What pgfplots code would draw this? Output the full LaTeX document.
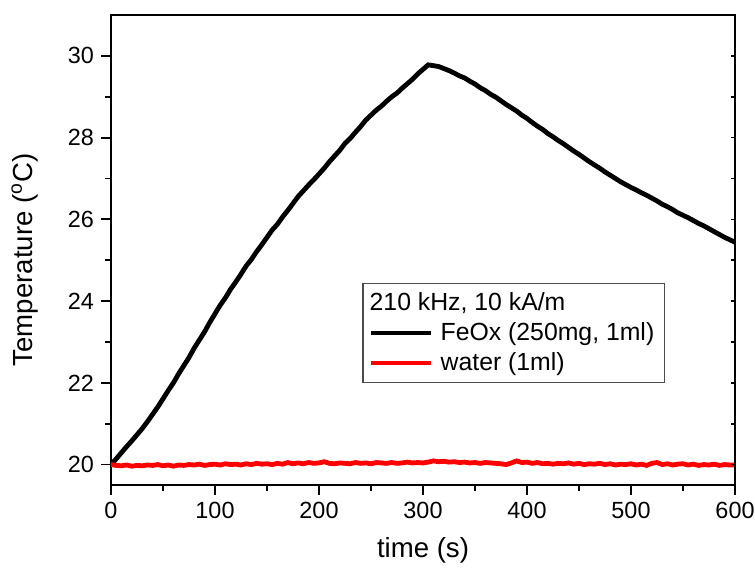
\documentclass[border=0pt]{standalone}
\usepackage{pgfplots}
\pgfplotsset{compat=1.18}
\usepackage{fontspec}
\setmainfont{Liberation Sans}

\pgfplotstableread{
x y
0 20.00
5 20.14
10 20.29
15 20.44
20 20.58
25 20.73
30 20.88
35 21.05
40 21.23
45 21.41
50 21.61
55 21.81
60 22.00
65 22.22
70 22.42
75 22.62
80 22.85
85 23.05
90 23.25
95 23.48
100 23.69
105 23.90
110 24.08
115 24.29
120 24.47
125 24.66
130 24.86
135 25.02
140 25.21
145 25.38
150 25.56
155 25.74
160 25.88
165 26.06
170 26.22
175 26.39
180 26.56
185 26.70
190 26.84
195 26.97
200 27.11
205 27.25
210 27.41
215 27.55
220 27.69
225 27.86
230 27.98
235 28.13
240 28.27
245 28.43
250 28.55
255 28.67
260 28.77
265 28.89
270 29.00
275 29.09
280 29.21
285 29.32
290 29.43
295 29.56
300 29.67
305 29.78
310 29.76
315 29.74
320 29.69
325 29.64
330 29.58
335 29.51
340 29.46
345 29.38
350 29.31
355 29.22
360 29.15
365 29.06
370 28.99
375 28.90
380 28.81
385 28.73
390 28.65
395 28.55
400 28.47
405 28.37
410 28.28
415 28.20
420 28.10
425 28.02
430 27.93
435 27.85
440 27.76
445 27.67
450 27.59
455 27.50
460 27.41
465 27.33
470 27.25
475 27.16
480 27.08
485 27.00
490 26.92
495 26.85
500 26.78
505 26.72
510 26.65
515 26.59
520 26.52
525 26.45
530 26.37
535 26.31
540 26.24
545 26.16
550 26.10
555 26.04
560 25.97
565 25.90
570 25.84
575 25.77
580 25.70
585 25.63
590 25.56
595 25.50
600 25.44
}\feox

\pgfplotstableread{
x y
0 20.00
5 19.98
10 19.97
15 19.99
20 19.96
25 19.98
30 19.97
35 19.99
40 19.98
45 20.00
50 19.97
55 19.99
60 19.96
65 19.99
70 19.98
75 20.00
80 19.99
85 20.01
90 19.98
95 20.00
100 20.01
105 19.99
110 20.02
115 20.00
120 20.01
125 19.99
130 20.02
135 20.00
140 20.03
145 20.01
150 20.02
155 20.00
160 20.03
165 20.01
170 20.05
175 20.02
180 20.04
185 20.02
190 20.05
195 20.03
200 20.04
205 20.07
210 20.03
215 20.02
220 20.04
225 20.03
230 20.02
235 20.05
240 20.03
245 20.04
250 20.02
255 20.05
260 20.04
265 20.03
270 20.05
275 20.03
280 20.04
285 20.06
290 20.04
295 20.05
300 20.04
305 20.06
310 20.09
315 20.07
320 20.08
325 20.06
330 20.07
335 20.05
340 20.06
345 20.04
350 20.05
355 20.03
360 20.05
365 20.04
370 20.03
375 20.02
380 20.00
385 20.04
390 20.09
395 20.05
400 20.06
405 20.03
410 20.05
415 20.02
420 20.03
425 20.01
430 20.03
435 20.02
440 20.04
445 20.01
450 20.03
455 20.00
460 20.02
465 20.01
470 20.03
475 20.00
480 20.02
485 19.99
490 20.01
495 20.00
500 20.02
505 19.99
510 20.01
515 19.98
520 20.03
525 20.05
530 20.00
535 20.02
540 19.99
545 20.01
550 20.02
555 19.99
560 20.01
565 19.98
570 20.00
575 19.99
580 20.01
585 19.98
590 20.00
595 19.99
600 19.99
}\water

\begin{document}
\begin{tikzpicture}
\begin{axis}[
  name=main,
  scale only axis, width=312pt, height=235pt,
  xmin=0, xmax=600, ymin=19.5, ymax=31,
  xtick={0,100,...,600}, minor x tick num=1,
  ytick={20,22,...,30}, minor y tick num=1,
  tick align=outside, tick pos=left,
  major tick length=5pt, minor tick length=3pt,
  axis line style={line width=1pt},
  every tick/.style={line width=0.9pt, black},
  /pgf/number format/assume math mode=true,
  tick label style={font=\fontsize{11.7}{13}\selectfont},
  label style={font=\fontsize{13.8}{15}\selectfont},
  xlabel={time (s)},
  ylabel={Temperature (\textsuperscript{o}C)},
  xlabel style={at={(axis description cs:0.5,-0.138)}, anchor=center},
  ylabel style={at={(axis description cs:-0.138,0.479)}, anchor=center},
  legend style={at={(0.403,0.430)}, anchor=north west,
    draw=black!70, line width=0.6pt,
    font=\fontsize{12.4}{14}\selectfont,
    inner xsep=3pt, inner ysep=2.5pt, row sep=0.5pt,
    cells={anchor=west}},
  legend image code/.code={\draw[#1, line width=2.2pt] (0pt,0pt) -- (30pt,0pt); \path (31.5pt,0pt);},
]
\addlegendimage{empty legend}
\addlegendentry{\hspace*{-35.5pt}210 kHz, 10 kA/m}
\addplot[black, line width=2.4pt] table[x=x, y=y] {\feox};
\addlegendentry{FeOx (250mg, 1ml)}
\addplot[red, line width=2.4pt] table[x=x, y=y] {\water};
\addlegendentry{water (1ml)}
\end{axis}
\begin{axis}[
  scale only axis, width=312pt, height=235pt,
  xmin=0, xmax=600, ymin=19.5, ymax=31,
  axis y line*=right, axis x line=none,
  ytick={20,21,...,30}, yticklabels={},
  tick align=inside, major tick length=2pt,
  axis line style={line width=1pt},
  every tick/.style={line width=0.8pt, black},
]
\end{axis}
\pgfresetboundingbox
\path[use as bounding box] ([shift={(-55.5pt,-41.5pt)}]main.south west) rectangle ([shift={(10pt,7.5pt)}]main.north east);
\end{tikzpicture}
\end{document}
